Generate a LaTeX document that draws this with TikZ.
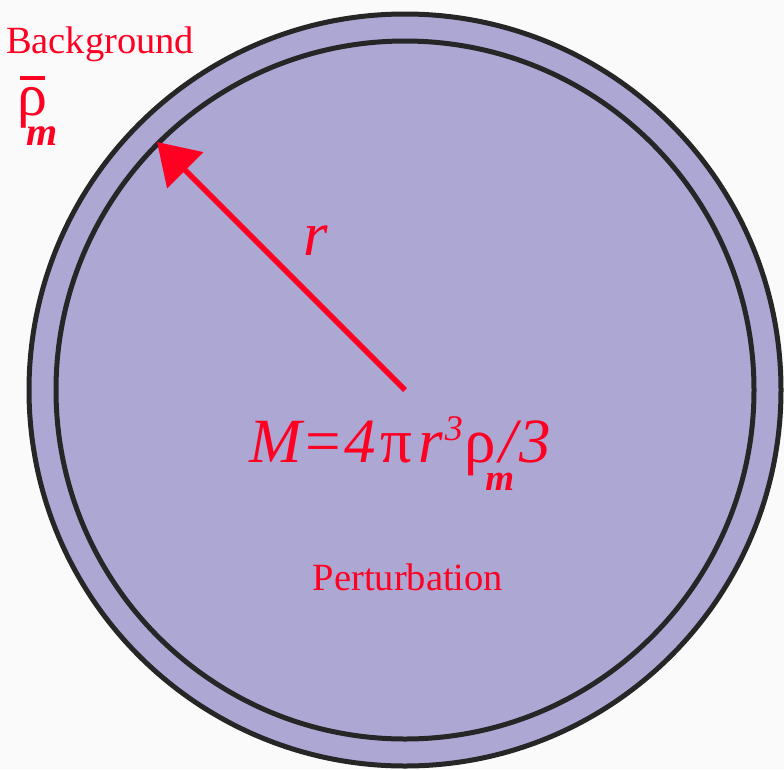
\documentclass[tikz,border=0pt]{standalone}
\usepackage{fontspec}
\setmainfont{Liberation Serif}
\usetikzlibrary{arrows.meta}
\definecolor{cPert}{HTML}{ADA7D4}
\definecolor{cRed}{HTML}{FF0022}
\definecolor{cRim}{HTML}{262626}
\definecolor{cBg}{HTML}{FAFAFA}

\begin{document}
\begin{tikzpicture}[x=1pt, y=-1pt,
    every node/.style={inner sep=0pt, outer sep=0pt, text=cRed},
    rim/.style ={draw=cRim, line width=5pt},
    lbl/.style ={font=\fontsize{38.5}{42}\selectfont},
    frm/.style ={font=\fontsize{63}{66}\selectfont\itshape},
    rad/.style ={draw=cRed, line width=5.5pt, -{Triangle[length=40pt,width=50pt]}}]

% ── canvas ──────────────────────────────────────────────────────────────
\fill[cBg] (0,0) rectangle (784,769);
\useasboundingbox (0,0) rectangle (784,769);

% ── sphere: background shell and perturbation ───────────────────────────
\coordinate (ctr) at (405,390);
\draw[rim, fill=cPert] (ctr) circle[radius=376];
\draw[rim] (ctr) circle[radius=349];

% ── radius ──────────────────────────────────────────────────────────────
\coordinate (tip) at (157,142);
\draw[rad] (ctr) -- (tip);

% ── labels ──────────────────────────────────────────────────────────────
\node[lbl, anchor=base west] (bg) at (6,53) {Background};
\node[anchor=base west, font=\fontsize{60}{64}\selectfont] (rhob) at (17,115)
  {\rlap{\kern3pt\rule[35pt]{25pt}{4.5pt}}ρ\rlap{\kern-20pt\raisebox{-30pt}{\fontsize{40}{44}\selectfont\bfseries\itshape m}}};
\node[frm, anchor=base] (r) at (316,255) {r};
\node[frm, anchor=base west] (mass) at (249,462)
  {M=4\kern5pt{\upshape π}\kern6pt r\kern2pt\raisebox{22pt}{\fontsize{36}{40}\selectfont 3}\kern2pt{\upshape ρ}\rlap{\kern-11pt\raisebox{-28pt}{\fontsize{37}{40}\selectfont\bfseries m}}\kern3pt/\kern3pt 3};
\node[lbl, anchor=base] (pert) at (408,590) {Perturbation};
\end{tikzpicture}
\end{document}
